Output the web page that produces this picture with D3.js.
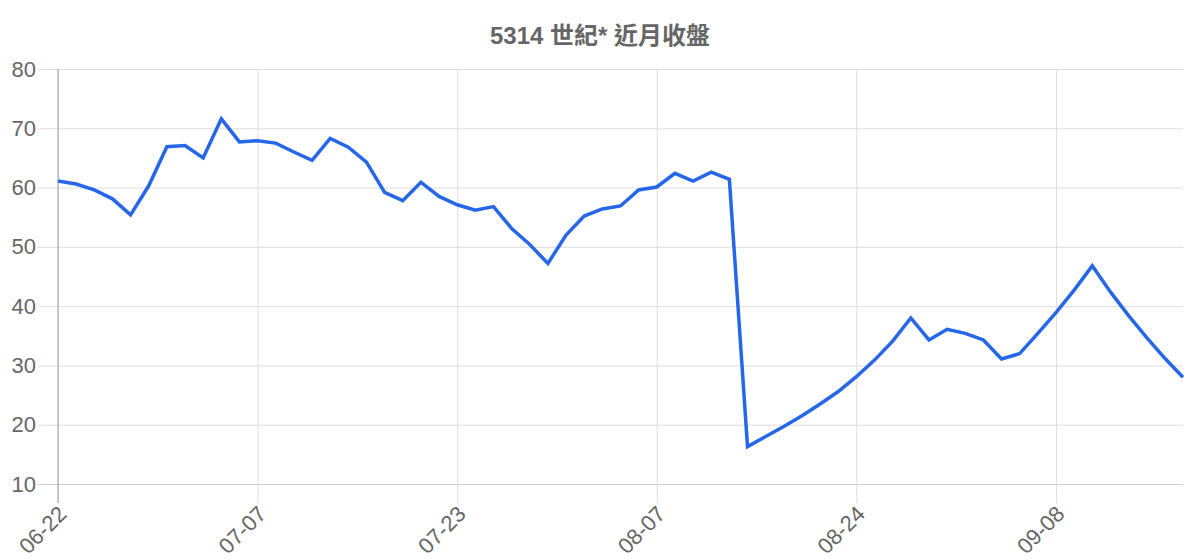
<!DOCTYPE html>
<html>
<head>
<meta charset="utf-8">
<script src="https://cdn.jsdelivr.net/npm/d3@7"></script>
<style>
  body { margin: 0; background: #fff; }
  text { font-family: "Liberation Sans", Arial, "Noto Sans CJK TC", sans-serif; }
</style>
</head>
<body>
<div id="chart"></div>
<script>
const title = "5314 世紀* 近月收盤";

const dates = [
  "06-22", "06-23", "06-24", "06-25", "06-28", "06-29", "06-30", "07-01", "07-02", "07-05", "07-06",
  "07-07", "07-08", "07-09", "07-12", "07-13", "07-14", "07-15", "07-16", "07-19", "07-20", "07-22",
  "07-23", "07-26", "07-27", "07-28", "07-29", "07-30", "08-02", "08-03", "08-04", "08-05", "08-06",
  "08-07", "08-09", "08-10", "08-11", "08-12", "08-13", "08-16", "08-17", "08-18", "08-19", "08-20",
  "08-24", "08-25", "08-26", "08-27", "08-30", "08-31", "09-01", "09-02", "09-03", "09-06", "09-07",
  "09-08", "09-09", "09-10", "09-13", "09-14", "09-15", "09-16", "09-17"
];

const closes = [
  61.1, 60.6, 59.6, 58.1, 55.4, 60.3, 66.9, 67.1, 65.0, 71.6, 67.7,
  67.9, 67.5, 66.0, 64.6, 68.3, 66.8, 64.3, 59.2, 57.8, 60.9, 58.5,
  57.1, 56.2, 56.8, 53.1, 50.4, 47.2, 52.0, 55.2, 56.4, 56.9, 59.6,
  60.1, 62.4, 61.1, 62.6, 61.4, 16.3, 18.0, 19.7, 21.5, 23.5, 25.6,
  28.1, 30.9, 34.1, 38.0, 34.3, 36.1, 35.4, 34.3, 31.1, 32.0, 35.4,
  38.9, 42.7, 46.8, 42.4, 38.4, 34.7, 31.2, 28.0
];

const yTicks = [10, 20, 30, 40, 50, 60, 70, 80];
const xTickLabels = ["06-22", "07-07", "07-23", "08-07", "08-24", "09-08"];

const width = 1200, height = 560;
const margin = {top: 69, right: 17, bottom: 76, left: 58};
const innerW = width - margin.left - margin.right;
const innerH = height - margin.top - margin.bottom;

const svg = d3.select("#chart")
    .append("svg")
    .attr("width", width)
    .attr("height", height);

svg.append("text")
    .attr("x", 600)
    .attr("y", 44)
    .attr("text-anchor", "middle")
    .style("font-size", "24px")
    .style("font-weight", "bold")
    .style("fill", "#666")
    .text(title);

const g = svg.append("g")
    .attr("transform", `translate(${margin.left},${margin.top})`);

const x = d3.scalePoint()
    .domain(dates)
    .range([0, innerW]);

const y = d3.scaleLinear()
    .domain([10, 80])
    .range([innerH, 0]);

// horizontal grid + y ticks
const yAxis = g.append("g")
    .call(d3.axisLeft(y).tickValues(yTicks).tickSize(20).tickPadding(2));
yAxis.select(".domain").remove();
yAxis.selectAll(".tick line")
    .attr("x2", innerW)
    .attr("x1", -20)
    .style("stroke", d => d === 10 ? "#ccc" : "#dedede");
yAxis.selectAll(".tick text")
    .style("font-size", "22px")
    .style("fill", "#666")
    .attr("x", -22);

// vertical grid + x ticks
const xAxis = g.append("g")
    .attr("transform", `translate(0,${innerH})`)
    .call(d3.axisBottom(x).tickValues(xTickLabels).tickSize(19).tickPadding(0));
xAxis.select(".domain").remove();
xAxis.selectAll(".tick line")
    .attr("y1", -innerH)
    .attr("y2", 19)
    .style("stroke", "#dedede");
xAxis.selectAll(".tick text")
    .style("font-size", "22px")
    .style("fill", "#666")
    .attr("text-anchor", "end")
    .attr("dy", "0.35em")
    .attr("transform", "translate(4,26) rotate(-45)")
    .attr("x", 0)
    .attr("y", 0);

// left axis line
g.append("line")
    .attr("x1", 0).attr("x2", 0)
    .attr("y1", 0).attr("y2", innerH + 19)
    .style("stroke", "#aaa")
    .style("stroke-width", 1.2);

const line = d3.line()
    .x((d, i) => x(dates[i]))
    .y(d => y(d));

g.append("path")
    .datum(closes)
    .attr("d", line)
    .style("fill", "none")
    .style("stroke", "#2666e8")
    .style("stroke-width", 3.5)
    .style("stroke-linejoin", "miter");
</script>
</body>
</html>
